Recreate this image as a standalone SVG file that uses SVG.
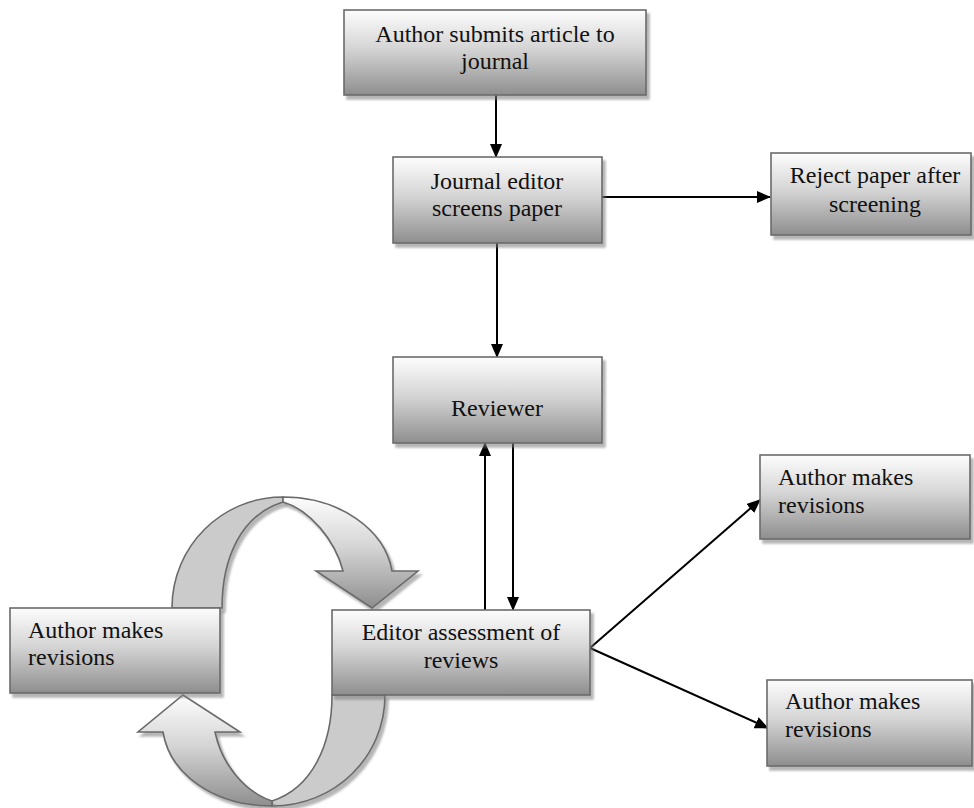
<svg xmlns="http://www.w3.org/2000/svg" width="974" height="808" viewBox="0 0 974 808">
<defs>
<linearGradient id="g" x1="0" y1="0" x2="0" y2="1">
<stop offset="0" stop-color="#fdfdfd"/>
<stop offset="0.45" stop-color="#d5d5d5"/>
<stop offset="1" stop-color="#8e8e8e"/>
</linearGradient>
<filter id="sh" x="-10%" y="-10%" width="130%" height="130%">
<feDropShadow dx="3" dy="4" stdDeviation="0.8" flood-color="#7a7a7a" flood-opacity="0.55"/>
</filter>
<marker id="ah" markerUnits="userSpaceOnUse" markerWidth="14" markerHeight="12" refX="13" refY="6" orient="auto">
<path d="M0,0 L14,6 L0,12 z" fill="#000"/>
</marker>
</defs>
<style>
.box{fill:url(#g);stroke:#6b6b6b;stroke-width:1.6;filter:url(#sh)}
.back{fill:#cbcbcb;stroke:#6b6b6b;stroke-width:1.6;filter:url(#sh)}
.front{fill:url(#g);stroke:#6b6b6b;stroke-width:1.6;filter:url(#sh)}
text{font-family:"Liberation Serif","Times New Roman",serif;font-size:24px;fill:#111}
.c{text-anchor:middle}
.ln{stroke:#000;stroke-width:2;fill:none;marker-end:url(#ah)}
</style>
<g id="connectors">
<line class="ln" x1="496" y1="95" x2="496" y2="157"/>
<line class="ln" x1="602" y1="197" x2="770" y2="197"/>
<line class="ln" x1="497" y1="243" x2="497" y2="357"/>
<line class="ln" x1="485" y1="610" x2="485" y2="443"/>
<line class="ln" x1="513" y1="443" x2="513" y2="610"/>
<line class="ln" x1="590" y1="648" x2="760" y2="500"/>
<line class="ln" x1="590" y1="648" x2="768" y2="728"/>
<g id="revision-cycle">
<path class="back" d="M172,608 C172,546 222,497 283,497 L283,502 C240,515 222,560 222,608 Z"/>
<path class="front" d="M283,502 C310,510 335,540 343,571 L316,571 L372,608 L418,571 L392,571 C385,530 340,497 283,497 Z"/>
<path class="back" d="M385,695 C385,757 335,806 272,806 L272,801 C312,788 332,745 332,695 Z"/>
<path class="front" d="M272,801 C245,792 222,765 215,732 L240,732 L183,695 L138,732 L163,732 C170,775 215,806 272,806 Z"/>
</g>
</g>
<g id="n1">
<rect class="box" x="344" y="10" width="302" height="85"/>
<text class="c" x="495" y="42">Author submits article to</text>
<text class="c" x="495" y="69">journal</text>
</g>
<g id="n2">
<rect class="box" x="393" y="157" width="209" height="86"/>
<text class="c" x="497" y="189">Journal editor</text>
<text class="c" x="497" y="216">screens paper</text>
</g>
<g id="n3">
<rect class="box" x="771" y="153" width="200" height="82"/>
<text class="c" x="875" y="183">Reject paper after</text>
<text class="c" x="875" y="212">screening</text>
</g>
<g id="n4">
<rect class="box" x="393" y="357" width="209" height="86"/>
<text class="c" x="497" y="416">Reviewer</text>
</g>
<g id="n5">
<rect class="box" x="332" y="610" width="258" height="85"/>
<text class="c" x="461" y="640">Editor assessment of</text>
<text class="c" x="461" y="668">reviews</text>
</g>
<g id="n6">
<rect class="box" x="10" y="608" width="210" height="85"/>
<text x="28" y="638">Author makes</text>
<text x="28" y="665">revisions</text>
</g>
<g id="n7">
<rect class="box" x="760" y="455" width="210" height="84"/>
<text x="778" y="485">Author makes</text>
<text x="778" y="513">revisions</text>
</g>
<g id="n8">
<rect class="box" x="767" y="680" width="205" height="86"/>
<text x="785" y="709">Author makes</text>
<text x="785" y="737">revisions</text>
</g>
</svg>
